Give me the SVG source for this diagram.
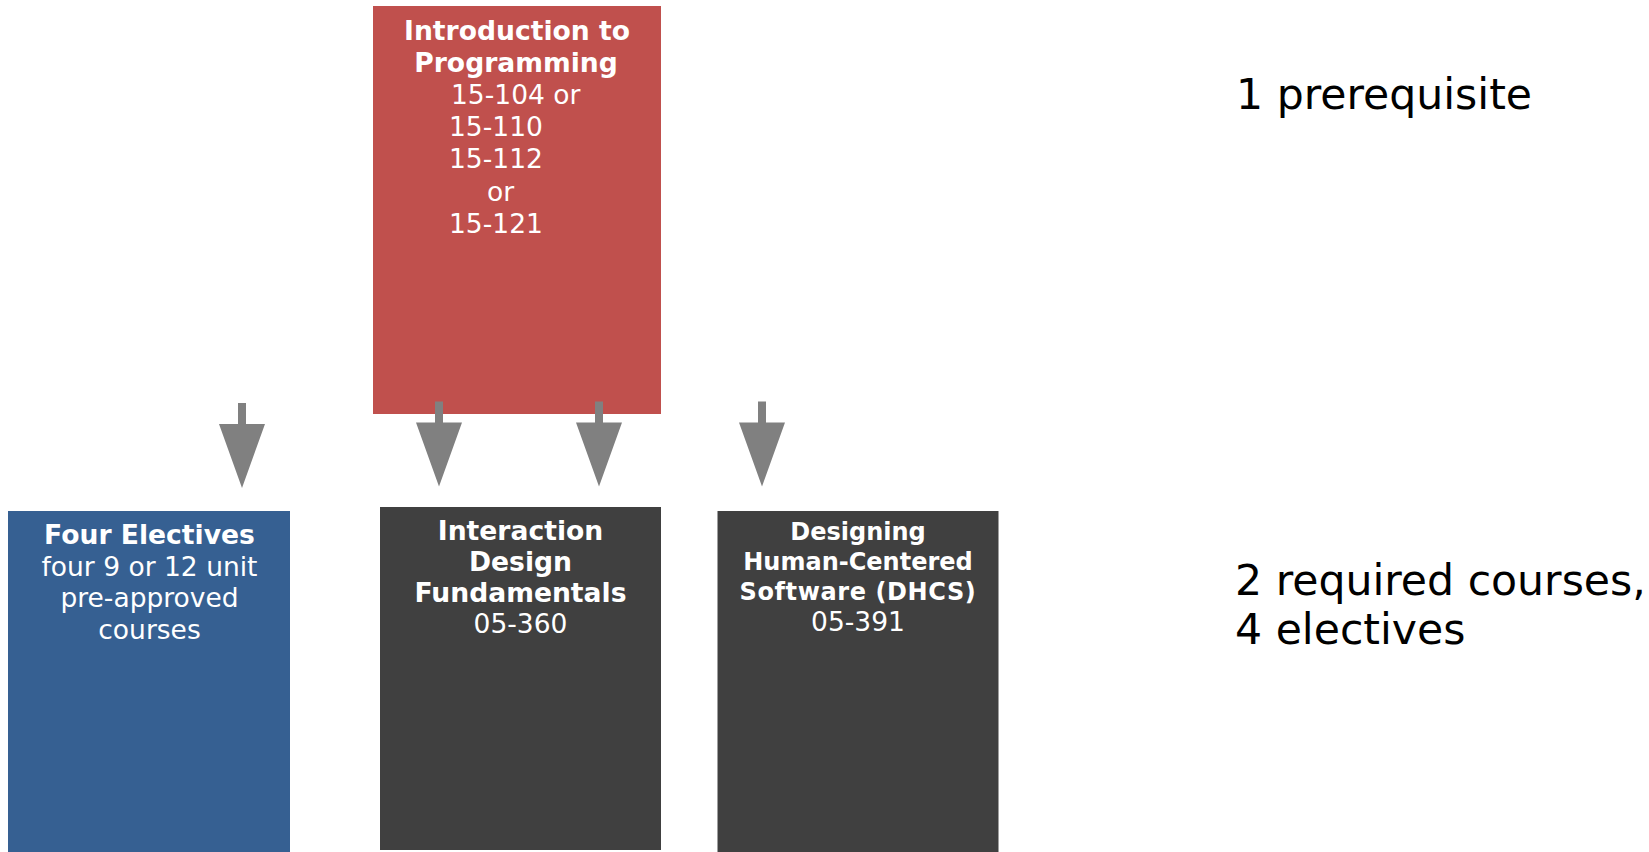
<svg xmlns="http://www.w3.org/2000/svg" width="1649" height="852" viewBox="0 0 1649 852">
<defs>
<style>
.t{font-family:"DejaVu Sans","Verdana",sans-serif;fill:#fff;text-anchor:middle}
.b{font-weight:bold;font-size:26.6px}
.b2{font-weight:bold;font-size:24px}
.r{font-size:26.5px}
.l{font-family:"DejaVu Sans","Verdana",sans-serif;font-size:42.6px;fill:#000}
.arrow{fill:#808080}
</style>
<path id="arr" d="M -4 0 H 4 V 21 H 23 L 0 85 L -23 21 H -4 Z"/>
</defs>
<rect width="1649" height="852" fill="#fff"/>
<g id="intro">
<rect x="373" y="6" width="288" height="408" fill="#C0504D"/>
<text class="t b" x="517" y="39.5">Introduction to</text>
<text class="t b" x="516" y="71.7">Programming</text>
<text class="t r" x="451" y="103.9" style="text-anchor:start">15-104 or</text>
<text class="t r" x="449" y="136.1" style="text-anchor:start">15-110</text>
<text class="t r" x="449" y="168.3" style="text-anchor:start">15-112</text>
<text class="t r" x="487" y="200.5" style="text-anchor:start">or</text>
<text class="t r" x="449" y="232.7" style="text-anchor:start">15-121</text>
</g>
<g id="electives">
<rect x="8" y="511" width="282" height="341" fill="#366092"/>
<text class="t b" x="149.5" y="544">Four Electives</text>
<text class="t r" x="149.5" y="575.5">four 9 or 12 unit</text>
<text class="t r" x="149.5" y="607">pre-approved</text>
<text class="t r" x="149.5" y="638.5">courses</text>
</g>
<g id="idf">
<rect x="380" y="507" width="281" height="343" fill="#404040"/>
<text class="t b" x="520.5" y="540">Interaction</text>
<text class="t b" x="520.5" y="571">Design</text>
<text class="t b" x="520.5" y="602">Fundamentals</text>
<text class="t r" x="520.5" y="633">05-360</text>
</g>
<g id="dhcs">
<rect x="717.5" y="511" width="281" height="341" fill="#404040"/>
<text class="t b2" x="858" y="540">Designing</text>
<text class="t b2" x="858" y="569.5">Human-Centered</text>
<text class="t b2" x="858" y="600" style="letter-spacing:0.6px">Software (DHCS)</text>
<text class="t r" x="858" y="630.5">05-391</text>
</g>
<g id="labels">
<text class="l" x="1236" y="108.5">1 prerequisite</text>
<text class="l" x="1235" y="595">2 required courses,</text>
<text class="l" x="1235" y="643.5">4 electives</text>
</g>
<g id="connectors" class="arrow">
<use href="#arr" x="242" y="403"/>
<use href="#arr" x="439" y="401.5"/>
<use href="#arr" x="599" y="401.5"/>
<use href="#arr" x="762" y="401.5"/>
</g>
</svg>
